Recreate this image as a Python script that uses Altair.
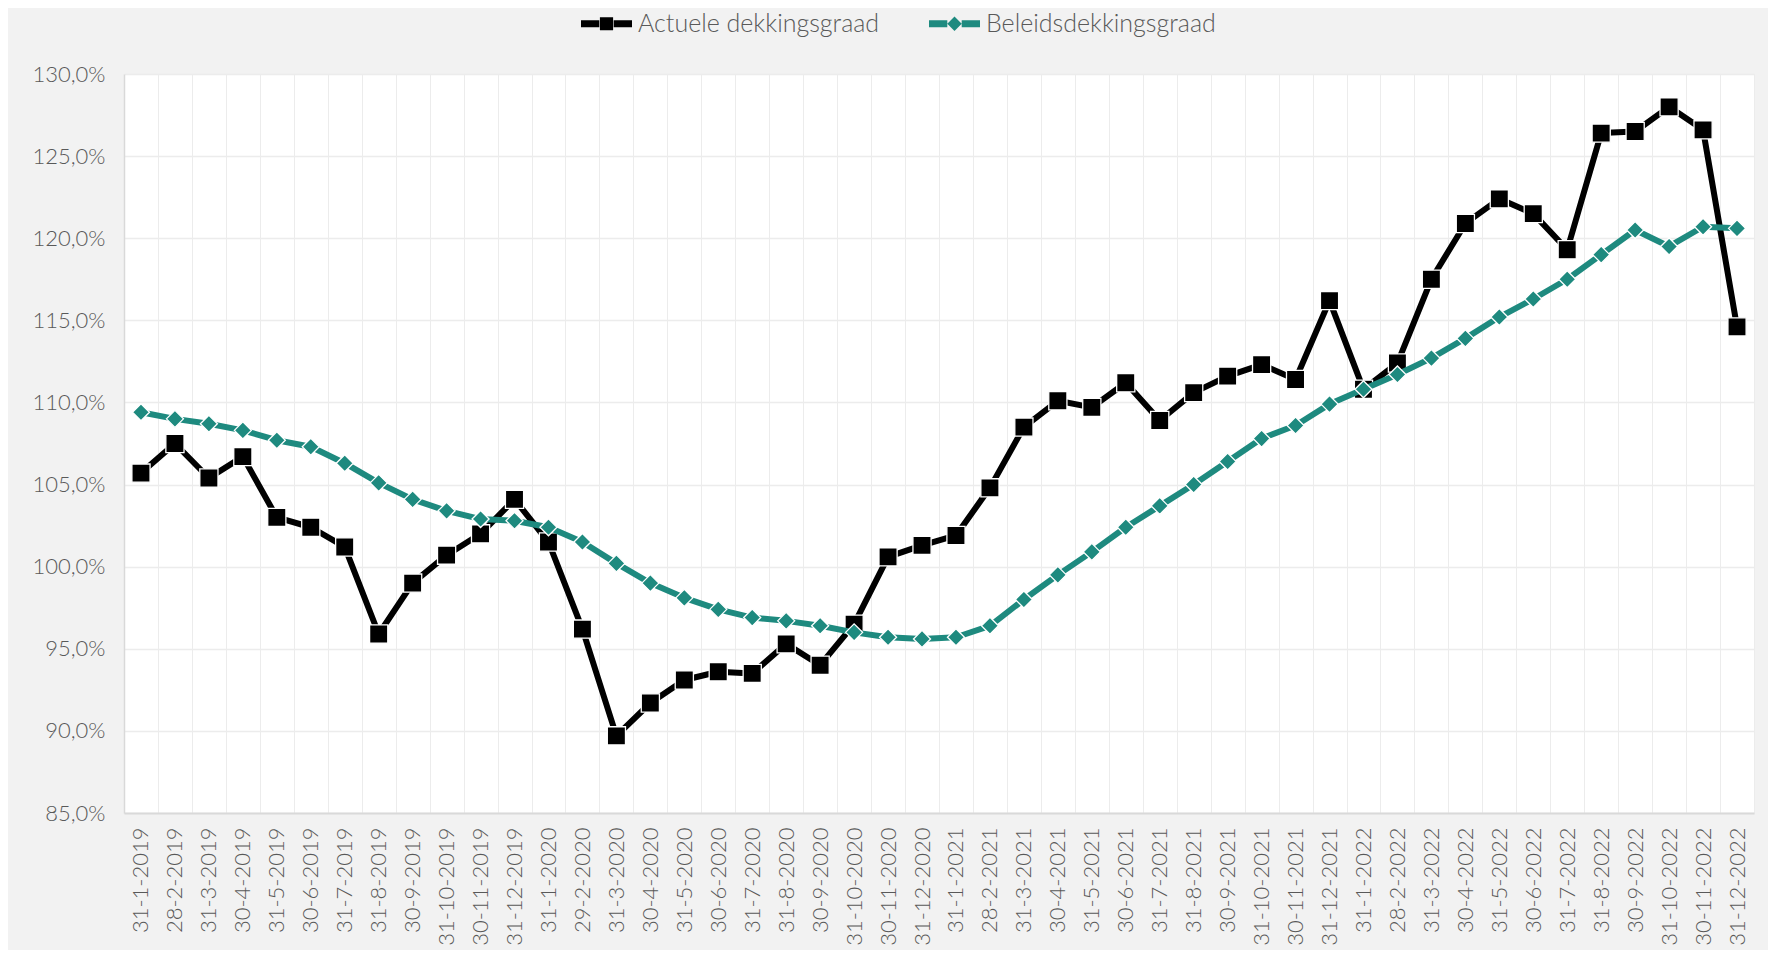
import altair as alt
import pandas as pd

dates = [
    "31-1-2019", "28-2-2019", "31-3-2019", "30-4-2019", "31-5-2019", "30-6-2019",
    "31-7-2019", "31-8-2019", "30-9-2019", "31-10-2019", "30-11-2019", "31-12-2019",
    "31-1-2020", "29-2-2020", "31-3-2020", "30-4-2020", "31-5-2020", "30-6-2020",
    "31-7-2020", "31-8-2020", "30-9-2020", "31-10-2020", "30-11-2020", "31-12-2020",
    "31-1-2021", "28-2-2021", "31-3-2021", "30-4-2021", "31-5-2021", "30-6-2021",
    "31-7-2021", "31-8-2021", "30-9-2021", "31-10-2021", "30-11-2021", "31-12-2021",
    "31-1-2022", "28-2-2022", "31-3-2022", "30-4-2022", "31-5-2022", "30-6-2022",
    "31-7-2022", "31-8-2022", "30-9-2022", "31-10-2022", "30-11-2022", "31-12-2022",
]

actuele = [
    105.7, 107.5, 105.4, 106.7, 103.0, 102.4, 101.2, 95.9, 99.0, 100.7, 102.0, 104.1,
    101.5, 96.2, 89.7, 91.7, 93.1, 93.6, 93.5, 95.3, 94.0, 96.5, 100.6, 101.3,
    101.9, 104.8, 108.5, 110.1, 109.7, 111.2, 108.9, 110.6, 111.6, 112.3, 111.4, 116.2,
    110.8, 112.4, 117.5, 120.9, 122.4, 121.5, 119.3, 126.4, 126.5, 128.0, 126.6, 114.6,
]

beleids = [
    109.4, 109.0, 108.7, 108.3, 107.7, 107.3, 106.3, 105.1, 104.1, 103.4, 102.9, 102.8,
    102.4, 101.5, 100.2, 99.0, 98.1, 97.4, 96.9, 96.7, 96.4, 96.0, 95.7, 95.6,
    95.7, 96.4, 98.0, 99.5, 100.9, 102.4, 103.7, 105.0, 106.4, 107.8, 108.6, 109.9,
    110.8, 111.7, 112.7, 113.9, 115.2, 116.3, 117.5, 119.0, 120.5, 119.5, 120.7, 120.6,
]

series_names = ["Actuele dekkingsgraad", "Beleidsdekkingsgraad"]
series_colors = ["#000000", "#1e8a7f"]
y_ticks = [85, 90, 95, 100, 105, 110, 115, 120, 125, 130]

df = pd.DataFrame(
    {"datum": dates * 2,
     "reeks": [series_names[0]] * len(dates) + [series_names[1]] * len(dates),
     "waarde": actuele + beleids}
)

FONT = "Lato"
TXT = "#595959"

# legend symbols: line with marker (unit = 12 px, symbol box 24 px)
sq_path = ("M-2.125,-0.3 L-0.6,-0.3 L-0.6,0.3 L-2.125,0.3 Z "
           "M0.6,-0.3 L2.125,-0.3 L2.125,0.3 L0.6,0.3 Z "
           "M-0.55,-0.55 L0.55,-0.55 L0.55,0.55 L-0.55,0.55 Z")
dm_path = ("M-2.125,-0.3 L-0.6,-0.3 L-0.6,0.3 L-2.125,0.3 Z "
           "M0.6,-0.3 L2.125,-0.3 L2.125,0.3 L0.6,0.3 Z "
           "M0,-0.6 L0.6,0 L0,0.6 L-0.6,0 Z")

color_scale = alt.Scale(domain=series_names, range=series_colors)
shape_scale = alt.Scale(domain=series_names, range=[sq_path, dm_path])

x_enc = alt.X(
    "datum:N",
    sort=dates,
    bandPosition=0.5,
    scale=alt.Scale(type="band", paddingInner=0, paddingOuter=0),
    axis=alt.Axis(
        title=None, tickBand="extent", grid=True, gridColor="#ececec", gridWidth=1,
        ticks=False, labelAngle=-90, labelPadding=14, labelFont=FONT,
        labelFontSize=22, labelFontWeight=300, labelColor=TXT,
        domainColor="#d9d9d9", domainWidth=2, labelOverlap=False,
    ),
)
y_enc = alt.Y(
    "waarde:Q",
    scale=alt.Scale(domain=[85, 130], nice=False, zero=False),
    axis=alt.Axis(
        title=None, values=y_ticks, grid=True, gridColor="#ececec", gridWidth=1.5,
        ticks=False, labelPadding=19, labelFont=FONT, labelFontSize=22,
        labelFontWeight=300, labelColor=TXT, domainColor="#d9d9d9", domainWidth=1.5,
        labelExpr="replace(format(datum.value, '.1f'), '.', ',') + '%'",
    ),
)

legend = alt.Legend(
    title=None, orient="none", direction="horizontal", legendX=470, legendY=-63,
    symbolSize=576, symbolStrokeWidth=0, symbolOpacity=1, labelFont=FONT,
    labelFontSize=25, labelFontWeight=300, labelColor=TXT, labelOffset=19,
    labelLimit=500, columnPadding=49, padding=0,
)

base = alt.Chart(df)

layers = []
for i, name in enumerate(series_names):
    sub = base.transform_filter(alt.datum.reeks == name)
    line = sub.mark_line(strokeWidth=6, strokeJoin="round").encode(
        x=x_enc, y=y_enc, color=alt.value(series_colors[i]),
    )
    pts = sub.mark_point(
        filled=True, shape="square" if i == 0 else "diamond",
        size=330 if i == 0 else 290, stroke="white", strokeWidth=1.3, opacity=1,
    ).encode(
        x=x_enc, y=y_enc, fill=alt.value(series_colors[i]),
    )
    layers += [line, pts]

legend_layer = base.transform_filter(alt.datum.datum == dates[0]).mark_point(
    filled=True, opacity=0
).encode(
    x=x_enc, y=y_enc,
    color=alt.Color("reeks:N", scale=color_scale, legend=legend),
    shape=alt.Shape("reeks:N", scale=shape_scale, legend=legend),
)
layers.append(legend_layer)

chart = alt.layer(*layers).properties(
    width=1630, height=739,
    background="#f2f2f2",
    padding={"left": 116, "top": 66, "right": 14, "bottom": 137},
    autosize=alt.AutoSizeParams(type="none"),
).configure_view(fill="white", stroke=None)

chart.save("out.html", embed_options={"renderer": "svg", "actions": False})
